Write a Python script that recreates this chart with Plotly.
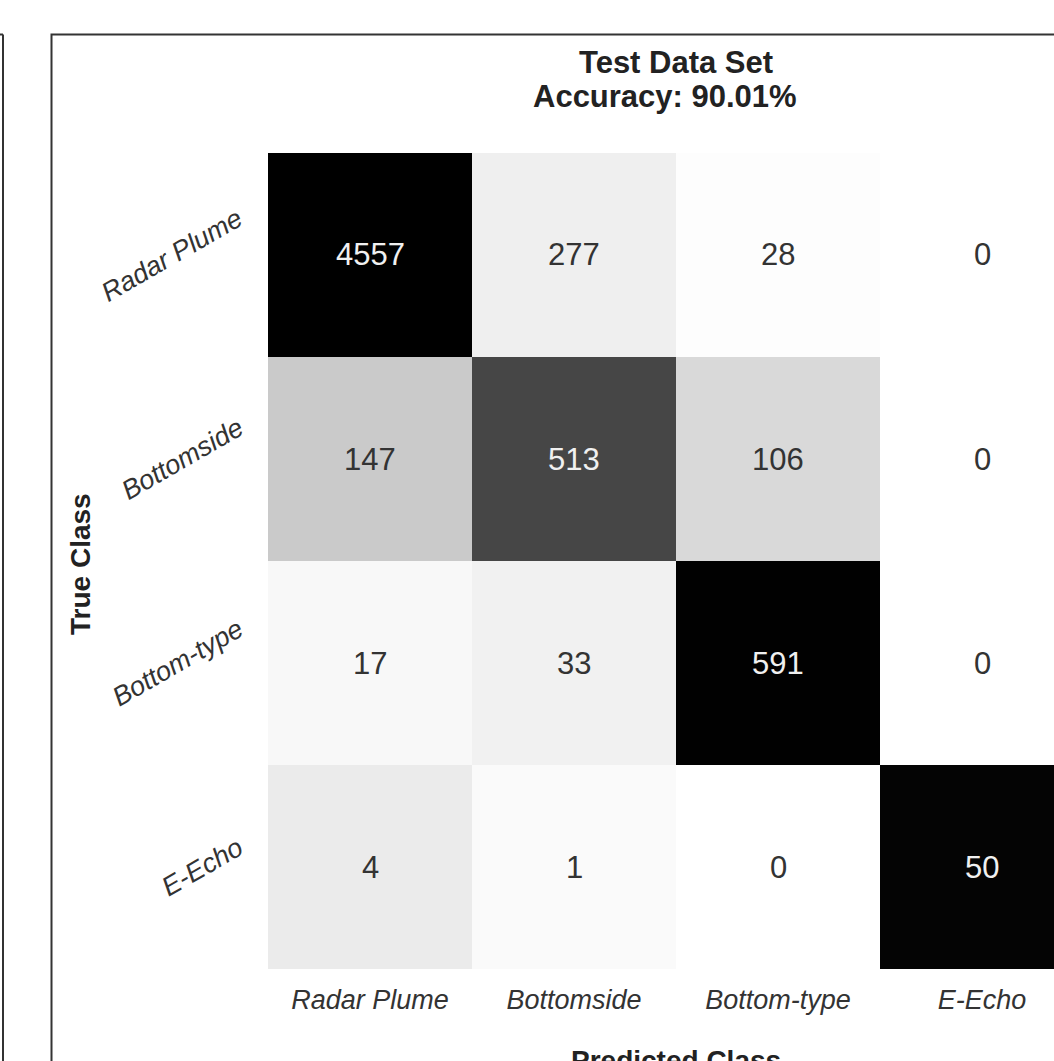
import plotly.graph_objects as go

# Confusion matrix of the test data set
true_classes = ["Radar Plume", "Bottomside", "Bottom-type", "E-Echo"]
pred_classes = ["Radar Plume", "Bottomside", "Bottom-type", "E-Echo"]
counts_radar_plume = [4557, 277, 28, 0]
counts_bottomside = [147, 513, 106, 0]
counts_bottom_type = [17, 33, 591, 0]
counts_e_echo = [4, 1, 0, 50]
accuracy_pct = 90.01

counts = [counts_radar_plume, counts_bottomside, counts_bottom_type, counts_e_echo]
# Shade each cell by its share of the row (true class) total
fractions = [[c / sum(row) for c in row] for row in counts]

W, H = 1054, 1061
FONT = "Liberation Sans, Arial, sans-serif"
TEXT = "#333333"

# pixel layout helpers
cell_px = 204
x_left, y_top, y_bot = 268, 153, 969

fig = go.Figure(
    go.Heatmap(
        z=fractions,
        x=pred_classes,
        y=true_classes,
        colorscale=[[0, "#ffffff"], [1, "#000000"]],
        zmin=0,
        zmax=0.925,
        showscale=False,
        hoverinfo="skip",
    )
)

annotations = []
# cell counts
for i, t in enumerate(true_classes):
    for j, p in enumerate(pred_classes):
        annotations.append(dict(
            x=p, y=t, xref="x", yref="y", text=str(counts[i][j]),
            showarrow=False,
            font=dict(family=FONT, size=31,
                      color="#f0f0f0" if fractions[i][j] > 0.5 else TEXT),
        ))

# rotated true-class labels
for t in true_classes:
    annotations.append(dict(
        x=251 / W, xref="paper", xanchor="right",
        y=t, yref="y", yanchor="middle",
        text=f"<i>{t}</i>", textangle=-30, showarrow=False,
        font=dict(family=FONT, size=27, color=TEXT),
    ))

# axis titles
annotations.append(dict(
    x=81 / W, y=(H - 564) / H, xref="paper", yref="paper",
    xanchor="center", yanchor="middle",
    text="<b>True Class</b>", textangle=-90, showarrow=False,
    font=dict(family=FONT, size=28, color="#222222"),
))
annotations.append(dict(
    x=676 / W, y=(H - 1043) / H, xref="paper", yref="paper",
    xanchor="center", yanchor="top",
    text="<b>Predicted Class</b>", showarrow=False,
    font=dict(family=FONT, size=28, color="#222222"),
))

# title
annotations.append(dict(
    x=676 / W, y=(H - 62) / H, xref="paper", yref="paper",
    xanchor="center", yanchor="middle",
    text="<b>Test Data Set</b>", showarrow=False,
    font=dict(family=FONT, size=31, color="#222222"),
))
annotations.append(dict(
    x=665 / W, y=(H - 97) / H, xref="paper", yref="paper",
    xanchor="center", yanchor="middle",
    text=f"<b>Accuracy: {accuracy_pct:.2f}%</b>", showarrow=False,
    font=dict(family=FONT, size=31, color="#222222"),
))

frame_top = (H - 34.5) / H
shapes = [
    # panel frame
    dict(type="rect", xref="paper", yref="paper",
         x0=51.5 / W, x1=1.05, y0=-0.05, y1=frame_top,
         line=dict(color="#333333", width=2), fillcolor="rgba(0,0,0,0)"),
    # edge of the neighbouring panel
    dict(type="line", xref="paper", yref="paper",
         x0=3 / W, x1=3 / W, y0=-0.05, y1=frame_top,
         line=dict(color="#333333", width=2)),
    dict(type="line", xref="paper", yref="paper",
         x0=-0.01, x1=3 / W, y0=frame_top, y1=frame_top,
         line=dict(color="#333333", width=2)),
]

visible_cols = (W - x_left) / cell_px

fig.update_layout(
    width=W, height=H,
    margin=dict(l=0, r=0, t=0, b=0),
    paper_bgcolor="white", plot_bgcolor="white",
    font=dict(family=FONT, color=TEXT),
    annotations=annotations,
    shapes=shapes,
    xaxis=dict(
        domain=[x_left / W, 1],
        range=[-0.5, -0.5 + visible_cols],
        tickmode="array",
        tickvals=pred_classes,
        ticktext=[f"<i>{p}</i>" for p in pred_classes],
        tickfont=dict(family=FONT, size=27, color=TEXT),
        ticks="", ticklabelstandoff=12,
        showgrid=False, zeroline=False, showline=False,
    ),
    yaxis=dict(
        domain=[(H - y_bot) / H, (H - y_top) / H],
        autorange="reversed",
        showticklabels=False, ticks="",
        showgrid=False, zeroline=False, showline=False,
    ),
)

fig.write_html("out.html")
